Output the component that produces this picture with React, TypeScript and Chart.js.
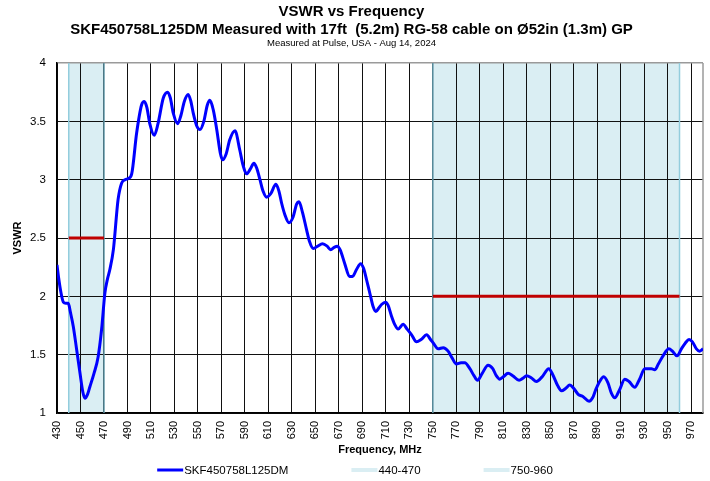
import React, { useEffect, useRef } from 'react';
import { Chart, registerables } from 'chart.js';

Chart.register(...registerables);

const FONT = '"Liberation Sans", Arial, Helvetica, sans-serif';

const TITLE_LINES = [
  'VSWR vs Frequency',
  'SKF450758L125DM Measured with 17ft  (5.2m) RG-58 cable on Ø52in (1.3m) GP',
];
const SUBTITLE = 'Measured at Pulse, USA - Aug 14, 2024';
const X_TITLE = 'Frequency, MHz';
const Y_TITLE = 'VSWR';
const SERIES_LABEL = 'SKF450758L125DM';

const X_MIN = 430;
const X_MAX = 980;
const Y_MIN = 1;
const Y_MAX = 4;
const Y_STEP = 0.5;
const X_TICKS = [430, 450, 470, 490, 510, 530, 550, 570, 590, 610, 630, 650, 670, 690, 710, 730, 750, 770, 790, 810, 830, 850, 870, 890, 910, 930, 950, 970];

const BAND_LABELS = ['440-470', '750-960'];
const BAND_START = [440, 750];
const BAND_END = [470, 960];
const BAND_LIMIT = [2.5, 2.0];

const FREQ_MHZ = [
  430, 431.5, 433.4, 435.4, 437.5, 439.6, 441.5, 443.9, 446.5, 449.6,
  452, 453.8, 456, 458, 461.5, 465, 468, 470.8, 473, 475,
  478, 482, 485, 488, 490.7, 493.6, 497.8, 502, 504.3, 506.5,
  509, 512.8, 516, 520.5, 524.2, 526.5, 529, 532.7, 535.5, 538.4,
  541.7, 544, 546, 549, 551.7, 555, 558, 560.2, 563, 566,
  569, 571, 574, 577, 581.5, 585.7, 588.5, 591.4, 594.5, 597.7,
  600, 602.8, 605.5, 608.5, 612, 616.4, 619, 621.2, 624, 627.5,
  631, 634, 636, 639, 642.5, 645, 648.2, 652, 656, 660,
  663, 666, 668.6, 671, 675, 679, 681.6, 685, 688.5, 691,
  693.6, 696.5, 699.2, 701.5, 704, 706.3, 709.7, 712, 714.8, 717.5,
  720.5, 724.7, 728, 731.9, 736.1, 740, 744.7, 748, 750.3, 754.5,
  758.8, 763, 766.5, 770, 774, 777.2, 781.5, 785, 788, 792,
  797, 801, 804, 807, 810, 814, 818, 823.4, 827, 829.7,
  834, 838.2, 843, 848.7, 852, 856, 859.5, 863, 866.6, 870,
  873.7, 878, 883, 886, 888.7, 892, 895.5, 899, 902, 904.9,
  909, 913.4, 917, 921.9, 926, 930.4, 936.1, 938.9, 942, 946,
  950.9, 954, 957.9, 961.6, 965, 968.1, 971, 974.4, 977, 980,
];

const VSWR = [
  2.27, 2.15, 2.03, 1.95, 1.94, 1.94, 1.86, 1.74, 1.56, 1.34,
  1.18, 1.126, 1.16, 1.225, 1.34, 1.48, 1.72, 2.03, 2.15, 2.23,
  2.40, 2.83, 2.97, 3.00, 3.01, 3.05, 3.40, 3.64, 3.67, 3.62,
  3.48, 3.38, 3.48, 3.70, 3.75, 3.70, 3.57, 3.48, 3.55, 3.67,
  3.73, 3.67, 3.57, 3.46, 3.43, 3.50, 3.64, 3.68, 3.60, 3.43,
  3.23, 3.17, 3.22, 3.34, 3.42, 3.25, 3.12, 3.05, 3.09, 3.14,
  3.10, 3.00, 2.90, 2.85, 2.88, 2.96, 2.90, 2.80, 2.70, 2.63,
  2.68, 2.79, 2.81, 2.72, 2.57, 2.47, 2.41, 2.43, 2.45, 2.43,
  2.40, 2.42, 2.43, 2.40, 2.28, 2.17, 2.17, 2.23, 2.28, 2.24,
  2.14, 2.02, 1.91, 1.87, 1.90, 1.93, 1.95, 1.92, 1.83, 1.76,
  1.72, 1.76, 1.72, 1.67, 1.61, 1.63, 1.67, 1.63, 1.60, 1.55,
  1.56, 1.53, 1.47, 1.42, 1.43, 1.43, 1.38, 1.32, 1.28, 1.34,
  1.41, 1.38, 1.32, 1.29, 1.31, 1.34, 1.32, 1.28, 1.30, 1.32,
  1.30, 1.27, 1.31, 1.38, 1.33, 1.24, 1.19, 1.21, 1.24, 1.21,
  1.16, 1.14, 1.10, 1.13, 1.20, 1.27, 1.31, 1.26, 1.17, 1.13,
  1.20, 1.29, 1.27, 1.22, 1.29, 1.38, 1.38, 1.37, 1.42, 1.49,
  1.55, 1.53, 1.49, 1.55, 1.60, 1.63, 1.61, 1.55, 1.53, 1.55,
];

const SERIES_COLOR = '#0000FF';
const LIMIT_COLOR = '#C00000';
const BAND_FILL = '#DAEEF3';
const BAND_EDGE_LIGHT = '#93CDDD';
const BAND_EDGE_DARK = '#5F97A8';

const bandPlugin = {
  id: 'bands',
  beforeDraw(chart: any) {
    const { ctx, chartArea, scales } = chart;
    const x = scales.x;
    ctx.save();
    ctx.fillStyle = BAND_FILL;
    BAND_START.forEach((s, i) => {
      const x0 = x.getPixelForValue(s);
      const x1 = x.getPixelForValue(BAND_END[i]);
      ctx.fillRect(x0, chartArea.top, x1 - x0, chartArea.bottom - chartArea.top);
    });
    ctx.restore();
  },
  beforeDatasetsDraw(chart: any) {
    const { ctx, chartArea, scales } = chart;
    const x = scales.x;
    ctx.save();
    ctx.lineWidth = 1.5;
    BAND_START.forEach((s, i) => {
      const x0 = x.getPixelForValue(s);
      const x1 = x.getPixelForValue(BAND_END[i]);
      ctx.strokeStyle = i === 0 ? BAND_EDGE_LIGHT : BAND_EDGE_DARK;
      ctx.beginPath();
      ctx.moveTo(x0, chartArea.top);
      ctx.lineTo(x0, chartArea.bottom);
      ctx.stroke();
      ctx.strokeStyle = i === 0 ? BAND_EDGE_DARK : BAND_EDGE_LIGHT;
      ctx.beginPath();
      ctx.moveTo(x1, chartArea.top);
      ctx.lineTo(x1, chartArea.bottom);
      ctx.stroke();
    });
    ctx.strokeStyle = '#9A9A9A';
    ctx.lineWidth = 1.5;
    ctx.beginPath();
    ctx.moveTo(chartArea.right, chartArea.top);
    ctx.lineTo(chartArea.right, chartArea.bottom);
    ctx.stroke();
    ctx.restore();
  },
};

const legendPlugin = {
  id: 'customLegend',
  afterDraw(chart: any) {
    const { ctx } = chart;
    const items = [
      { label: SERIES_LABEL, color: SERIES_COLOR, lw: 3 },
      ...BAND_LABELS.map((l) => ({ label: l, color: BAND_FILL, lw: 4 })),
    ];
    ctx.save();
    ctx.font = `11.5px ${FONT}`;
    ctx.textBaseline = 'middle';
    ctx.textAlign = 'left';
    const sw = 26;
    const gap = 1;
    const between = 63;
    const widths = items.map((it) => sw + gap + ctx.measureText(it.label).width);
    const total = widths.reduce((a, b) => a + b, 0) + between * (items.length - 1);
    let cx = (chart.width - total) / 2;
    const cy = 471;
    items.forEach((it, i) => {
      ctx.strokeStyle = it.color;
      ctx.lineWidth = it.lw;
      ctx.beginPath();
      ctx.moveTo(cx, cy - 1);
      ctx.lineTo(cx + sw, cy - 1);
      ctx.stroke();
      ctx.fillStyle = '#000';
      ctx.fillText(it.label, cx + sw + gap, cy);
      cx += widths[i] + between;
    });
    ctx.restore();
  },
};

export default function App() {
  const ref = useRef<HTMLCanvasElement>(null);
  useEffect(() => {
    if (!ref.current) return;
    Chart.defaults.font.family = FONT;
    Chart.defaults.color = '#000';
    const chart = new Chart(ref.current, {
      type: 'line',
      data: {
        datasets: [
          {
            label: SERIES_LABEL,
            data: FREQ_MHZ.map((f, i) => ({ x: f, y: VSWR[i] })),
            borderColor: SERIES_COLOR,
            backgroundColor: SERIES_COLOR,
            borderWidth: 3,
            pointRadius: 0,
            cubicInterpolationMode: 'monotone',
            fill: false,
          },
          ...BAND_LABELS.map((l, i) => ({
            label: l + ' limit',
            data: [
              { x: BAND_START[i], y: BAND_LIMIT[i] },
              { x: BAND_END[i], y: BAND_LIMIT[i] },
            ],
            borderColor: LIMIT_COLOR,
            backgroundColor: LIMIT_COLOR,
            borderWidth: 3,
            pointRadius: 0,
            fill: false,
          })),
        ],
      } as any,
      options: {
        animation: false,
        responsive: false,
        maintainAspectRatio: false,
        layout: { padding: { top: 0, left: 0, right: 7, bottom: 22 } },
        plugins: {
          legend: { display: false },
          tooltip: { enabled: false },
          title: {
            display: true,
            text: TITLE_LINES,
            color: '#000',
            font: { size: 15, weight: 'bold', lineHeight: 1.2 },
            padding: { top: 3, bottom: 0 },
          },
          subtitle: {
            display: true,
            text: SUBTITLE,
            color: '#000',
            font: { size: 9.5, lineHeight: 1.0 },
            padding: { top: 0, bottom: 14.5 },
          },
        },
        scales: {
          x: {
            type: 'linear',
            min: X_MIN,
            max: X_MAX,
            afterBuildTicks: (s: any) => {
              s.ticks = X_TICKS.map((v) => ({ value: v }));
            },
            afterFit: (s: any) => {
              s.height = 46;
              s.paddingRight = 0;
              s.paddingLeft = 0;
            },
            ticks: {
              autoSkip: false,
              minRotation: 90,
              maxRotation: 90,
              padding: 8,
              color: '#000',
              font: { size: 11 },
            },
            grid: { color: '#111', lineWidth: 1, drawTicks: false },
            border: { color: '#000', width: 1.5 },
            title: {
              display: true,
              text: X_TITLE,
              color: '#000',
              font: { size: 11, weight: 'bold' },
              padding: { top: 0, bottom: 2 },
            },
          },
          y: {
            type: 'linear',
            min: Y_MIN,
            max: Y_MAX,
            afterFit: (s: any) => {
              s.width = 57;
            },
            ticks: {
              stepSize: Y_STEP,
              padding: 11,
              color: '#000',
              font: { size: 11.5 },
              callback: (v: any) => String(Number(v)),
            },
            grid: {
              color: (c: any) => (c.tick && c.tick.value === Y_MAX ? '#9A9A9A' : '#111'),
              lineWidth: (c: any) => (c.tick && c.tick.value === Y_MAX ? 1.5 : 1),
              drawTicks: false,
            },
            border: { color: '#000', width: 1.5 },
            title: {
              display: true,
              text: Y_TITLE,
              color: '#000',
              font: { size: 11, weight: 'bold' },
              padding: { top: 11, bottom: 0 },
            },
          },
        },
      } as any,
      plugins: [bandPlugin, legendPlugin],
    });
    return () => chart.destroy();
  }, []);

  return (
    <div style={{ position: 'fixed', left: 0, top: 0, width: 710, height: 481, background: '#fff' }}>
      <canvas ref={ref} width={710} height={481} style={{ display: 'block', width: 710, height: 481 }} />
    </div>
  );
}
